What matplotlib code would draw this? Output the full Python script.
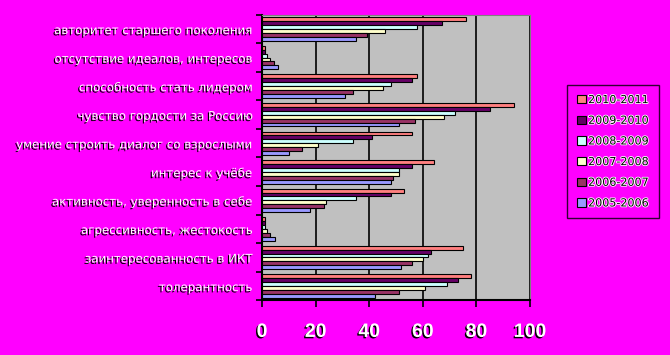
import matplotlib
matplotlib.use('Agg')
import matplotlib.pyplot as plt
import matplotlib.patheffects as pe
import numpy as np

# data (categories listed top to bottom)
categories = ['авторитет старшего поколения',
              'отсутствие идеалов, интересов',
              'способность стать лидером',
              'чувство гордости за Россию',
              'умение строить диалог со взрослыми',
              'интерес к учёбе',
              'активность, уверенность в себе',
              'агрессивность, жестокость',
              'заинтересованность в ИКТ',
              'толерантность']
years = ['2010-2011', '2009-2010', '2008-2009', '2007-2008', '2006-2007', '2005-2006']
v_2010_2011 = [76, 1, 58, 94, 56, 64, 53, 1, 75, 78]
v_2009_2010 = [67, 1, 56, 85, 41, 56, 48, 1, 63, 73]
v_2008_2009 = [58, 2, 48, 72, 34, 51, 35, 1, 62, 69]
v_2007_2008 = [46, 3, 45, 68, 21, 51, 24, 2, 60, 61]
v_2006_2007 = [39, 4.5, 34, 57, 15, 49, 23, 3, 56, 51]
v_2005_2006 = [35, 6, 31, 51, 10, 48, 18, 5, 52, 42]
series = [v_2010_2011, v_2009_2010, v_2008_2009, v_2007_2008, v_2006_2007, v_2005_2006]
colors = ['#FF8080', '#660066', '#CCFFFF', '#FFFFCC', '#993366', '#9999FF']

magenta = '#FF00FF'
fig = plt.figure(figsize=(6.7, 3.55), dpi=100, facecolor=magenta)
ax = fig.add_axes([262 / 670, 1 - 300.3 / 355, 268 / 670, 285.6 / 355])
ax.set_facecolor('#C0C0C0')

n = len(categories)
bar_h = 0.137
centers = np.arange(n)
for i, (vals, c, lab) in enumerate(zip(series, colors, years)):
    y = centers - 0.41 + bar_h * (i + 0.5)
    ax.barh(y, vals, height=bar_h, color=c, edgecolor='black', linewidth=0.8,
            label=lab, zorder=3)

ax.set_xlim(0, 100)
ax.set_ylim(n - 0.5, -0.5)
ax.set_xticks([0, 20, 40, 60, 80, 100])
ax.xaxis.grid(True, color='black', linewidth=1.2, zorder=1)
ax.set_axisbelow(True)

shadow = [pe.withSimplePatchShadow(offset=(-1, -1), shadow_rgbFace='black', alpha=1.0)]
ax.set_xticklabels(['0', '20', '40', '60', '80', '100'], fontsize=14, fontweight='bold',
                   family='Liberation Sans', color='white')
for t in ax.get_xticklabels():
    t.set_path_effects(shadow)
ax.tick_params(axis='x', length=5, width=1.2, direction='out', pad=12)

# category ticks at boundaries, labels at centers
ax.set_yticks(np.arange(n + 1) - 0.5)
ax.set_yticklabels([])
ax.set_yticks(centers, minor=True)
ax.set_yticklabels(categories, minor=True, fontsize=8.5, color='white',
                   family='DejaVu Sans')
for t in ax.get_yticklabels(minor=True):
    t.set_path_effects(shadow)
ax.tick_params(axis='y', which='major', length=4, width=1.2, direction='out')
ax.tick_params(axis='y', which='minor', length=0, pad=7)

ax.spines['left'].set_color('black')
ax.spines['left'].set_linewidth(1.5)
ax.spines['bottom'].set_color('black')
ax.spines['bottom'].set_linewidth(1.5)
ax.spines['top'].set_color('#808080')
ax.spines['right'].set_color('#808080')

leg = fig.legend(loc='upper left', bbox_to_anchor=(567 / 670, 1 - 85 / 355),
                 frameon=True, fontsize=8, handlelength=0.8, handleheight=0.8,
                 handletextpad=0.2, labelspacing=0.95, borderpad=0.9,
                 borderaxespad=0, fancybox=False, facecolor=magenta,
                 edgecolor='black')
leg.get_frame().set_linewidth(1.0)
for t in leg.get_texts():
    t.set_path_effects([pe.withStroke(linewidth=1.2, foreground='white')])

fig.savefig('out.png', dpi=100, facecolor=magenta)
